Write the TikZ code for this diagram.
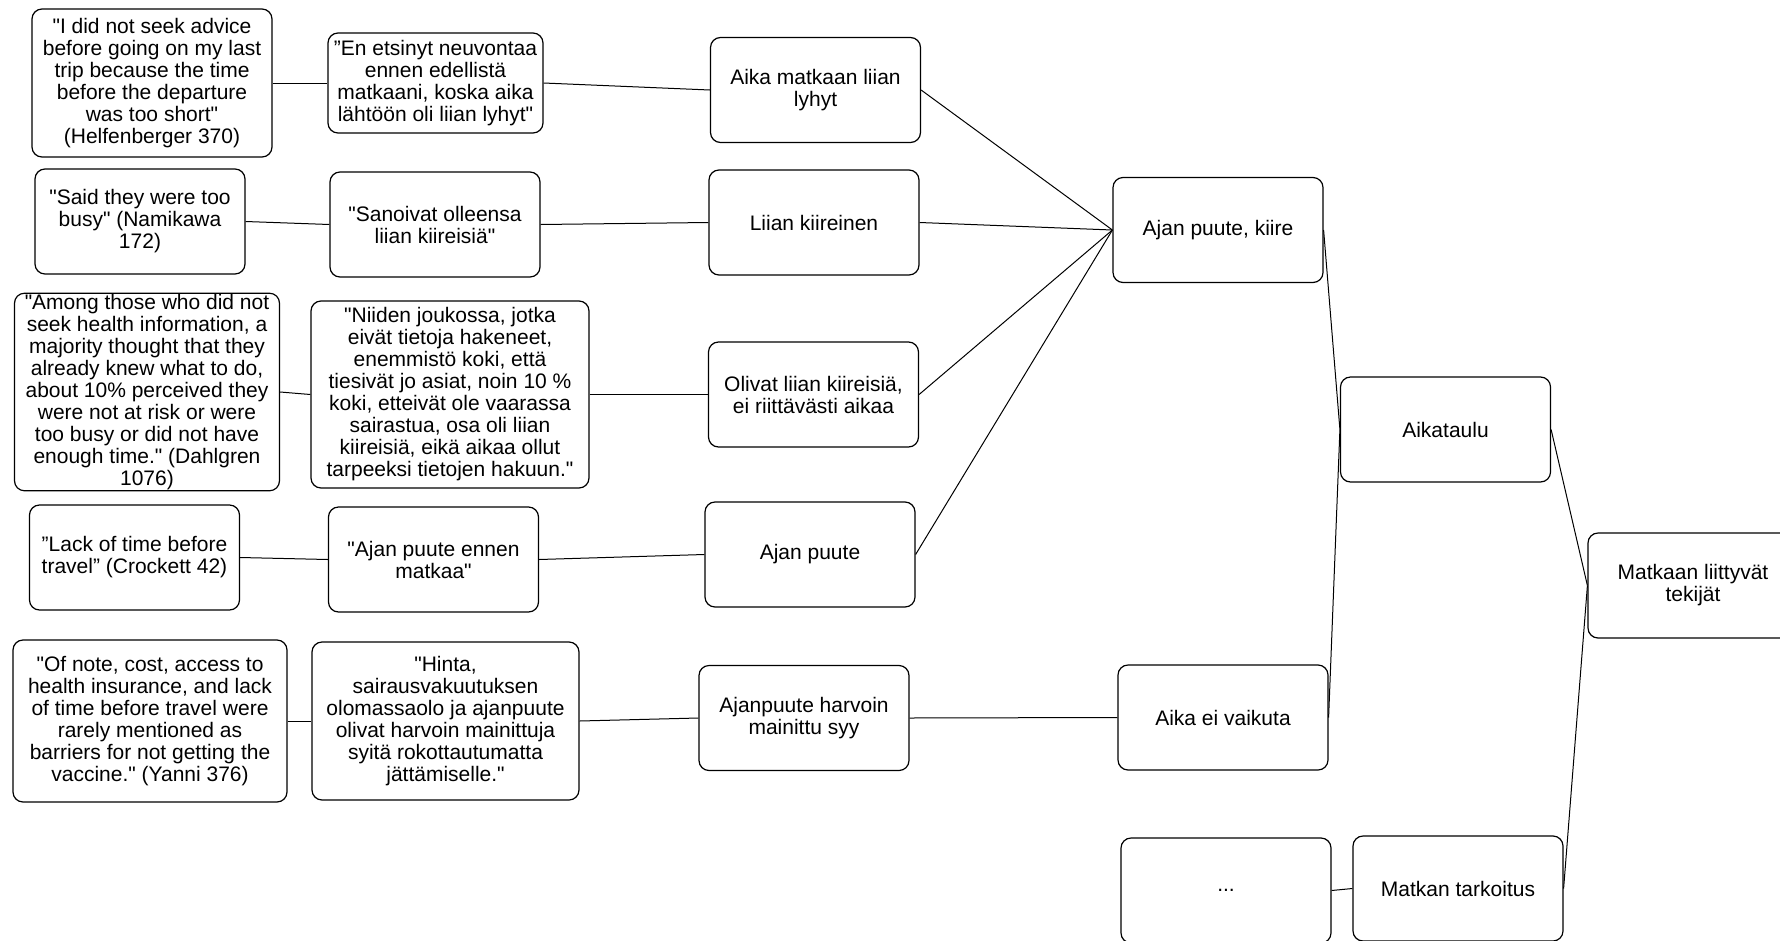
\documentclass[tikz,border=0pt]{standalone}
\usepackage{fontspec}
\setmainfont{Liberation Sans}[Ligatures=TeXOff]
\begin{document}
\begin{tikzpicture} [x=1pt, y=-1pt,
  box/.style={draw, line width=1.2pt, rounded corners=10pt, align=center, inner sep=1pt,
    minimum width=210pt, minimum height=105pt, font=\fontsize{21}{22}\selectfont},
  yhd/.style={line width=1pt}]
\useasboundingbox (0,0) rectangle (1780,940);

% lainaukset
\node[box, minimum width=240pt, minimum height=148pt] (q1) at (152,83) {"I did not seek advice\\before going on my last\\trip because the time\\before the departure\\was too short"\\(Helfenberger 370)};
\node[box] (q2) at (140,221.5) {"Said they were too\\busy" (Namikawa\\172)};
\node[box, minimum width=265pt, minimum height=196pt] (q3) at (147,392) {"Among those who did not\\seek health information, a\\majority thought that they\\already knew what to do,\\about 10\% perceived they\\were not at risk or were\\too busy or did not have\\enough time." (Dahlgren\\1076)};
\node[box] (q4) at (134.5,557.5) {”Lack of time before\\travel” (Crockett 42)};
\node[box, minimum width=274pt, minimum height=162pt] (q5) at (150,721) {"Of note, cost, access to\\health insurance, and lack\\of time before travel were\\rarely mentioned as\\barriers for not getting the\\vaccine." (Yanni 376)};

% suomennokset
\node[box, minimum width=215pt, minimum height=100pt] (s1) at (435.5,83) {”En etsinyt neuvontaa\\ennen edellistä\\matkaani, koska aika\\lähtöön oli liian lyhyt"};
\node[box] (s2) at (435,224.5) {"Sanoivat olleensa\\liian kiireisiä"};
\node[box, minimum width=278pt, minimum height=187pt] (s3) at (450,394.5) {"Niiden joukossa, jotka\\eivät tietoja hakeneet,\\enemmistö koki, että\\tiesivät jo asiat, noin 10 \%\\koki, etteivät ole vaarassa\\sairastua, osa oli liian\\kiireisiä, eikä aikaa ollut\\tarpeeksi tietojen hakuun."};
\node[box] (s4) at (433.5,559.5) {"Ajan puute ennen\\matkaa"};
\node[box, minimum width=267pt, minimum height=158pt] (s5) at (445.5,721) {"Hinta,\\sairausvakuutuksen\\olomassaolo ja ajanpuute\\olivat harvoin mainittuja\\syitä rokottautumatta\\jättämiselle."};

% pelkistetyt
\node[box] (p1) at (815.5,90) {Aika matkaan liian\\lyhyt};
\node[box] (p2) at (814,222.5) {Liian kiireinen};
\node[box] (p3) at (813.5,394.5) {Olivat liian kiireisiä,\\ei riittävästi aikaa};
\node[box] (p4) at (810,554.5) {Ajan puute};
\node[box] (p5) at (804,718) {Ajanpuute harvoin\\mainittu syy};

% alaluokat
\node[box] (kiire) at (1218,230) {Ajan puute, kiire};
\node[box] (eivaik) at (1223,717.5) {Aika ei vaikuta};
\node[box] (muu) at (1226,890.5) {...};
\node[box] (aikataulu) at (1445.5,429.5) {Aikataulu};
\node[box] (tarkoitus) at (1458,888.5) {Matkan tarkoitus};
\node[box] (tekijat) at (1693,585.5) {Matkaan liittyvät\\tekijät};

\foreach \i in {1,...,5} \draw[yhd] (q\i.east) -- (s\i.west);
\foreach \i in {1,...,5} \draw[yhd] (s\i.east) -- (p\i.west);
\foreach \i in {1,...,4} \draw[yhd] (p\i.east) -- (kiire.west);
\draw[yhd] (p5.east) -- (eivaik.west);
\draw[yhd] (kiire.east) -- (aikataulu.west);
\draw[yhd] (eivaik.east) -- (aikataulu.west);
\draw[yhd] (muu.east) -- (tarkoitus.west);
\draw[yhd] (aikataulu.east) -- (tekijat.west);
\draw[yhd] (tarkoitus.east) -- (tekijat.west); % ylin taso
\end{tikzpicture}
\end{document}
